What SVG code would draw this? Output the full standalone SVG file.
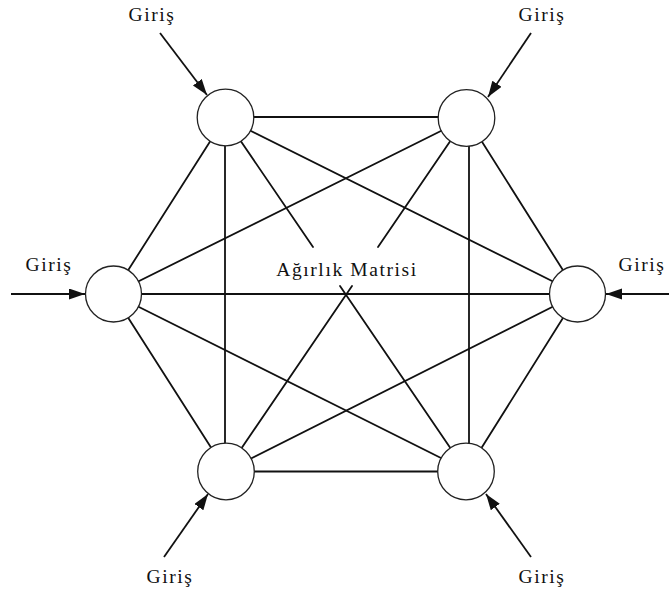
<svg xmlns="http://www.w3.org/2000/svg" width="669" height="596" viewBox="0 0 669 596">
  <style>
    .edge { stroke: #111; stroke-width: 1.8; fill: none; stroke-linecap: round; }
    .input { stroke: #111; stroke-width: 1.8; fill: none; marker-end: url(#head); }
    .node circle { fill: #fff; stroke: #222; stroke-width: 1.3; }
    .lbl { font-family: "Liberation Serif", "Times New Roman", serif; font-size: 19.5px; letter-spacing: 1.6px; fill: #111; text-anchor: middle; }
  </style>
  <defs>
    <marker id="head" markerUnits="userSpaceOnUse" markerWidth="17" markerHeight="12" refX="16" refY="5.5" orient="auto">
      <path d="M0,0 L16,5.5 L0,11 Z" fill="#111"/>
    </marker>
  </defs>
  <rect width="669" height="596" fill="#fff"/>

  <!-- fully connected links between the six neurons -->
  <g id="connectors">
    <line class="edge" x1="225" y1="117" x2="467" y2="117"/>
    <line class="edge" x1="226" y1="471.5" x2="467" y2="471.5"/>
    <line class="edge" x1="113" y1="294" x2="578" y2="294"/>
    <line class="edge" x1="225" y1="118" x2="113" y2="294"/>
    <line class="edge" x1="467" y1="118" x2="578" y2="294"/>
    <line class="edge" x1="226" y1="471" x2="113" y2="294"/>
    <line class="edge" x1="467" y1="471" x2="578" y2="294"/>
    <line class="edge" x1="225" y1="118" x2="225" y2="471"/>
    <line class="edge" x1="469" y1="118" x2="469" y2="471"/>
    <line class="edge" x1="225" y1="118" x2="578" y2="294"/>
    <line class="edge" x1="467" y1="118" x2="113" y2="294"/>
    <line class="edge" x1="226" y1="471" x2="578" y2="294"/>
    <line class="edge" x1="467" y1="471" x2="113" y2="294"/>
    <!-- diagonals through the weight matrix, broken around its label -->
    <line class="edge" x1="225" y1="118" x2="313" y2="247"/>
    <line class="edge" x1="340" y1="286" x2="466" y2="471"/>
    <line class="edge" x1="466" y1="118" x2="378" y2="247"/>
    <line class="edge" x1="352" y1="286" x2="226" y2="471"/>
    <!-- input arrows -->
    <line class="input" x1="160" y1="33" x2="207" y2="95"/>
    <line class="input" x1="531" y1="33" x2="488" y2="97"/>
    <line class="input" x1="11" y1="294" x2="85" y2="294"/>
    <line class="input" x1="669" y1="294" x2="606" y2="294"/>
    <line class="input" x1="164" y1="557" x2="208" y2="494"/>
    <line class="input" x1="531" y1="557" x2="486" y2="494"/>
  </g>

  <g id="n-top-left" class="node"><circle cx="225.5" cy="117.5" r="28.3"/></g>
  <g id="n-top-right" class="node"><circle cx="466.5" cy="118" r="28.3"/></g>
  <g id="n-left" class="node"><circle cx="113.5" cy="294" r="28"/></g>
  <g id="n-right" class="node"><circle cx="577.5" cy="294" r="28"/></g>
  <g id="n-bottom-left" class="node"><circle cx="226" cy="471.5" r="28.3"/></g>
  <g id="n-bottom-right" class="node"><circle cx="466" cy="471.5" r="28.3"/></g>

  <g id="labels">
    <text class="lbl" x="152" y="21">Giriş</text>
    <text class="lbl" x="542" y="21">Giriş</text>
    <text class="lbl" x="49" y="271">Giriş</text>
    <text class="lbl" x="642" y="271">Giriş</text>
    <text class="lbl" x="170" y="583">Giriş</text>
    <text class="lbl" x="542" y="583">Giriş</text>
    <text id="weight-matrix" class="lbl" x="347" y="276">Ağırlık Matrisi</text>
  </g>
</svg>
